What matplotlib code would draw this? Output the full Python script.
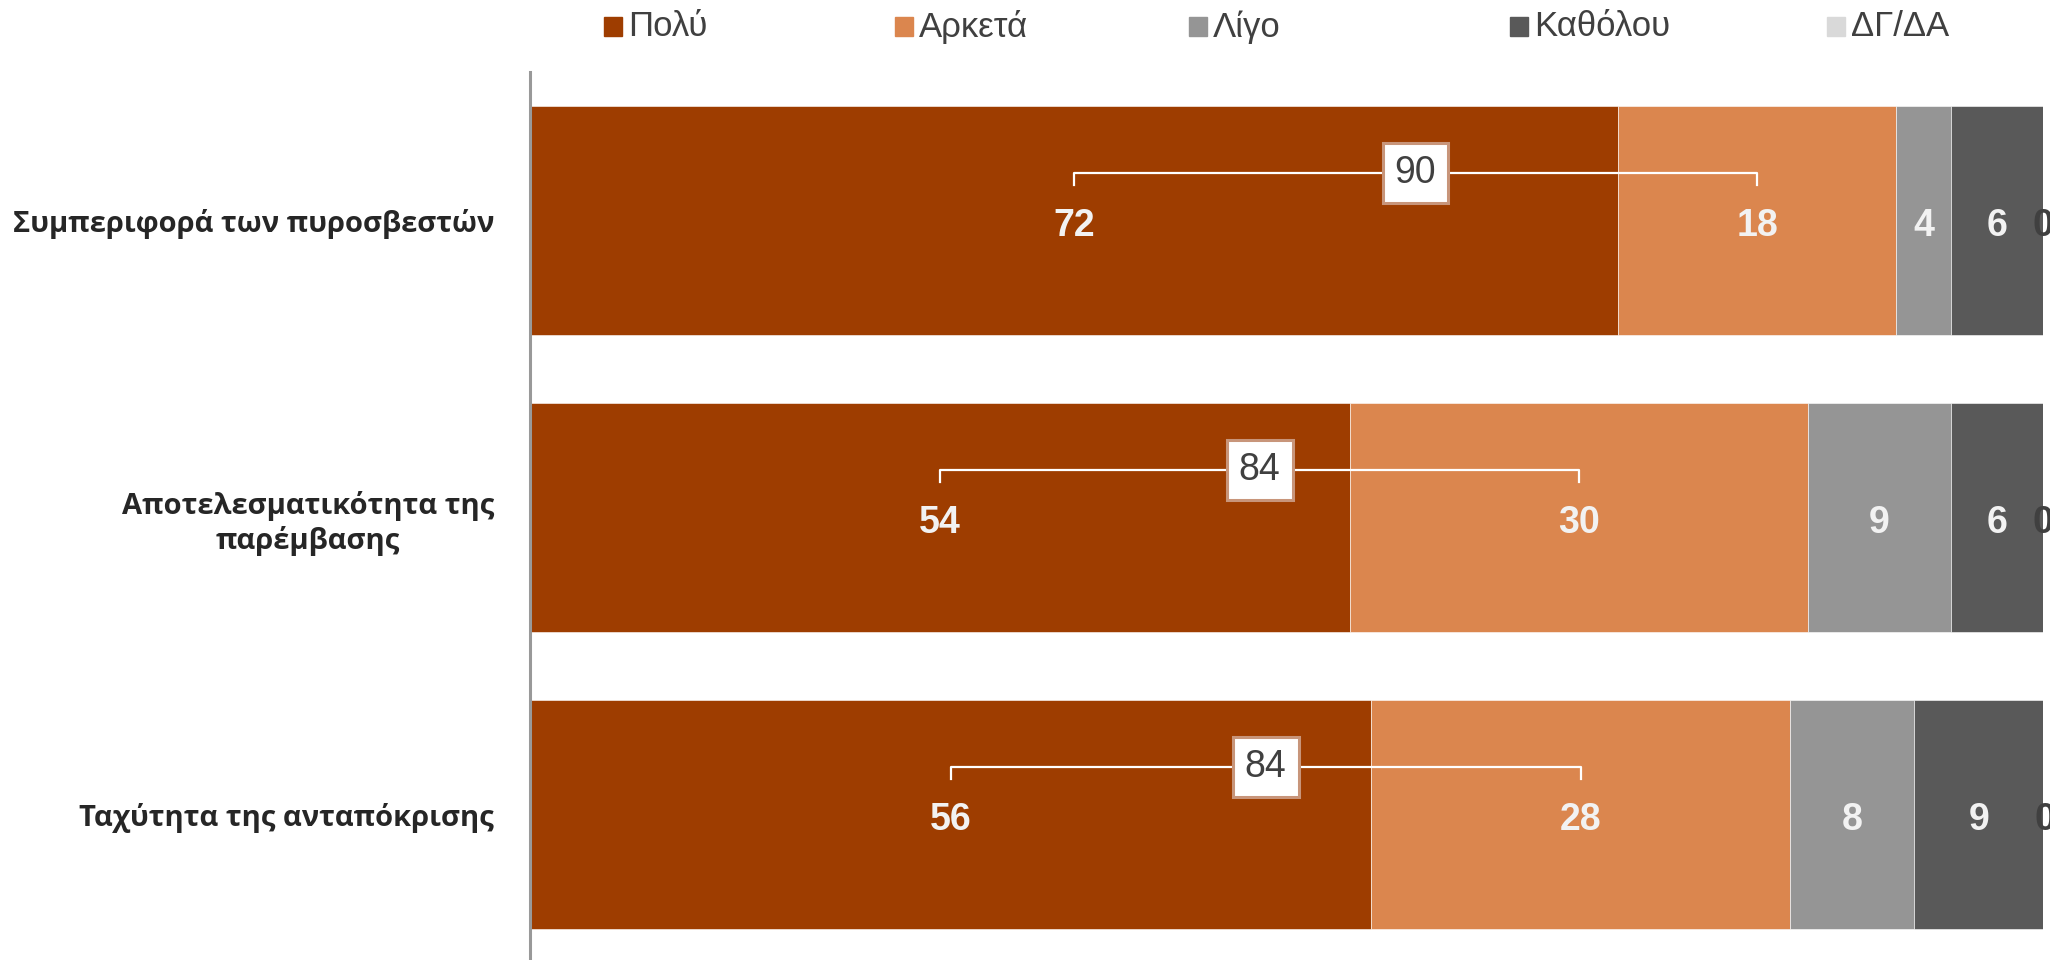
import matplotlib.pyplot as plt
import numpy as np

# survey answers (percent), one list per answer option
categories = ['Συμπεριφορά των πυροσβεστών',
              'Αποτελεσματικότητα της\nπαρέμβασης',
              'Ταχύτητα της ανταπόκρισης']
series_names = ['Πολύ', 'Αρκετά', 'Λίγο', 'Καθόλου', 'ΔΓ/ΔΑ']
poly = [71.9, 54.2, 55.6]
arketa = [18.4, 30.3, 27.7]
ligo = [3.6, 9.4, 8.2]
katholou = [6.1, 6.1, 8.6]
dgda = [0.0, 0.0, 0.0]

colors = ['#9E3D00', '#DB864E', '#959595', '#595959', '#D9D9D9']
label_colors = ['#F2F2F2', '#F2F2F2', '#F2F2F2', '#F2F2F2', '#404040']

narrow = ['Liberation Sans Narrow', 'Liberation Sans', 'DejaVu Sans']
wide = ['Open Sans', 'DejaVu Sans']

fig = plt.figure(figsize=(20.5, 9.6), dpi=100)
ax = fig.add_axes([530 / 2050, 0, 1513 / 2050, 1 - 72 / 960])

y = np.arange(len(categories))
series = [poly, arketa, ligo, katholou, dgda]
left = np.zeros(len(categories))
for vals, col, lc in zip(series, colors, label_colors):
    vals = np.array(vals)
    ax.barh(y, vals, left=left, height=0.768, color=col,
            edgecolor='white', linewidth=0.4)
    for yi, l, v in zip(y, left, vals):
        ax.text(l + v / 2, yi + 0.005, f'{round(v)}', ha='center',
                va='center_baseline', color=lc, fontsize=27,
                fontweight='bold', family=narrow, stretch='condensed',
                clip_on=False)
    left = left + vals

# brackets with the sum of the two positive answers
for yi, a, b in zip(y, poly, arketa):
    c1 = a / 2
    c2 = a + b / 2
    yl = yi - 0.16
    ax.plot([c1, c1, c2, c2], [yl + 0.04, yl, yl, yl + 0.04],
            color='white', lw=1.6, solid_joinstyle='round', zorder=3)
    ax.text((c1 + c2) / 2, yl, f'{round(a) + round(b)}', ha='center',
            va='center', fontsize=27, color='#404040', family=narrow,
            stretch='condensed', zorder=4,
            bbox=dict(boxstyle='square,pad=0.32', fc='white',
                      ec='#C8957A', lw=2.2))

ax.set_xlim(0, 100)
ax.set_ylim(2.49, -0.50)
ax.set_yticks(y)
ax.set_yticklabels(categories, fontsize=21, fontweight='bold',
                   color='#262626', family=wide, multialignment='center')
ax.tick_params(axis='y', length=0, pad=26)
ax.set_xticks([])
for s in ['top', 'right', 'bottom']:
    ax.spines[s].set_visible(False)
ax.spines['left'].set_color('#999999')
ax.spines['left'].set_linewidth(2.2)

# legend across the top
leg_x = [604, 895, 1189, 1510, 1827]
for lx, name, col in zip(leg_x, series_names, colors):
    fig.patches.append(plt.Rectangle((lx / 2050, 1 - 36 / 960), 18 / 2050,
                                     19 / 960, color=col,
                                     transform=fig.transFigure))
    fig.text((lx + 24) / 2050, 1 - 27 / 960, name, fontsize=25,
             color='#404040', family=narrow, stretch='condensed',
             va='center', ha='left')

fig.savefig('out.png', dpi=100)
